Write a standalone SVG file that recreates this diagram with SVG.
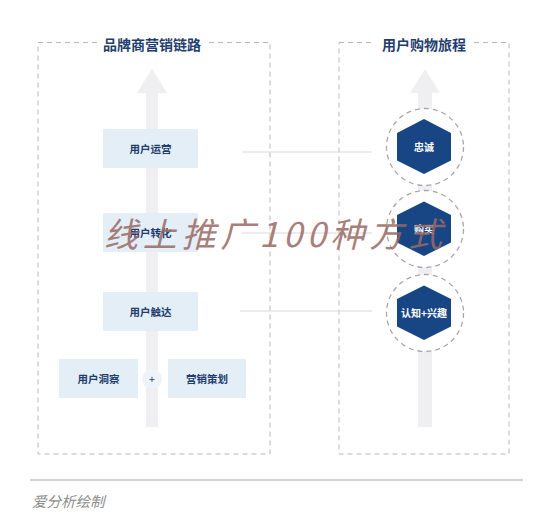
<svg xmlns="http://www.w3.org/2000/svg" width="553" height="514" viewBox="0 0 553 514">
<style>
.frame{fill:none;stroke:#b8b8b8;stroke-width:1;stroke-dasharray:5 4}
.title{font-family:"Noto Sans CJK SC","Noto Sans",sans-serif;font-size:14px;font-weight:700;fill:#1f3d6d;text-anchor:middle}
.arrow{fill:#efeff2}
.box{fill:#e3eef7}
.btxt{font-family:"Noto Sans CJK SC","Noto Sans",sans-serif;font-size:10.5px;font-weight:700;fill:#1f3d6d;text-anchor:middle}
.ring{fill:#ffffff;stroke:#a8a8a8;stroke-width:1.3;stroke-dasharray:5 4}
.hex{fill:#184684}
.htxt{font-family:"Noto Sans CJK SC","Noto Sans",sans-serif;font-size:10px;font-weight:700;fill:#ffffff;text-anchor:middle}
.conn{stroke:#d9d9d9;stroke-width:1;fill:none}
</style>
<rect width="553" height="514" fill="#ffffff"/>

<g id="frame-left">
<rect class="frame" x="38" y="42.5" width="232" height="411.5"/>
<rect x="97" y="35" width="111" height="16" fill="#ffffff"/>
<text class="title" x="152" y="50">品牌商营销链路</text>
</g>
<g id="frame-right">
<rect class="frame" x="339" y="42.5" width="170" height="411.5"/>
<rect x="375" y="35" width="98" height="16" fill="#ffffff"/>
<text class="title" x="424" y="50">用户购物旅程</text>
</g>

<g id="arrow-left"><polygon class="arrow" points="152,69 167,93 158,93 158,427 146,427 146,93 137,93"/></g>
<g id="arrow-right"><polygon class="arrow" points="425,69 440,93 432,93 432,427 418,427 418,93 410,93"/></g>

<g id="connectors">
<line class="conn" x1="242" y1="152" x2="372" y2="152"/>
<line class="conn" x1="242" y1="233" x2="372" y2="233"/>
<line class="conn" x1="240" y1="311" x2="372" y2="311"/>
</g>

<g id="node-operate"><rect class="box" x="103" y="129" width="95" height="39"/><text class="btxt" x="150.5" y="152.5">用户运营</text></g>
<g id="node-convert"><rect class="box" x="103" y="213" width="95" height="39"/><text class="btxt" x="150.5" y="236.5">用户转化</text></g>
<g id="node-reach"><rect class="box" x="103" y="292" width="95" height="39"/><text class="btxt" x="150.5" y="315.5">用户触达</text></g>
<g id="node-insight"><rect class="box" x="59" y="359" width="79" height="39"/><text class="btxt" x="98.5" y="382.5">用户洞察</text></g>
<g id="node-plus"><circle cx="152" cy="379" r="10" fill="#edf3f9"/><text class="btxt" x="152" y="382.5" style="font-weight:400">+</text></g>
<g id="node-plan"><rect class="box" x="168" y="359" width="78" height="39"/><text class="btxt" x="207" y="382.5">营销策划</text></g>

<g id="node-loyal"><circle class="ring" cx="425" cy="147" r="38.5"/><polygon class="hex" points="424,119 451,133 451,160.5 424,174 397,160.5 397,133"/><text class="htxt" x="424" y="150.5">忠诚</text></g>
<g id="node-buy"><circle class="ring" cx="425" cy="229" r="38.5"/><polygon class="hex" points="424,201.5 451,215 451,242.5 424,256 397,242.5 397,215"/><text class="htxt" x="424" y="232.5">购买</text></g>
<g id="node-aware"><circle class="ring" cx="425" cy="313" r="38.5"/><polygon class="hex" points="424,285.5 451,299 451,326.5 424,340 397,326.5 397,299"/><text class="htxt" x="424" y="316.5">认知+兴趣</text></g>

<g id="watermark" opacity="0.85">
<text x="104" y="247" font-family="Noto Sans CJK SC, sans-serif" font-size="34" font-weight="400" font-style="italic" fill="#9a6a65" textLength="338" lengthAdjust="spacing">线上推广100种方式</text>
</g>

<g id="footer">
<line x1="30" y1="480" x2="523" y2="480" stroke="#c4c4c4" stroke-width="1.5"/>
<text x="32" y="507" font-family="Noto Sans CJK SC, sans-serif" font-size="14.5" font-style="italic" fill="#8c8c8c">爱分析绘制</text>
</g>
</svg>
